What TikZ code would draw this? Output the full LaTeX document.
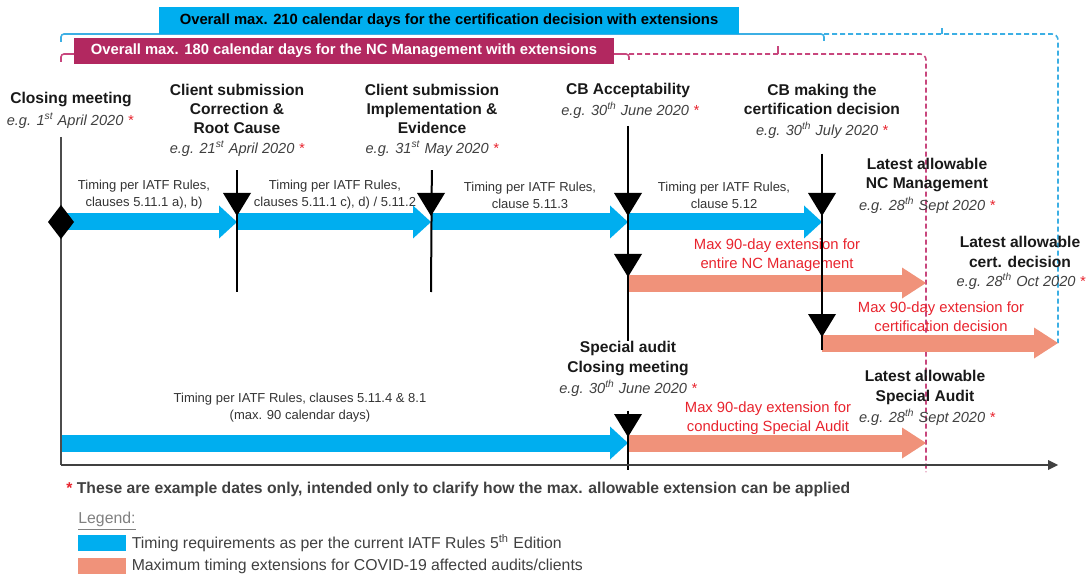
\documentclass[tikz,border=0pt]{standalone}
\usepackage{fontspec}
\setmainfont{Liberation Sans}
\usetikzlibrary{arrows.meta,positioning}

\definecolor{iatfblue}{RGB}{0,174,239}
\definecolor{extorange}{RGB}{240,146,122}
\definecolor{ncmagenta}{RGB}{178,40,96}
\definecolor{extred}{RGB}{232,35,45}
\definecolor{txtgray}{RGB}{64,64,64}
\definecolor{brkblue}{RGB}{60,175,228}
\definecolor{brkmag}{RGB}{200,70,125}

\newcommand{\hdsize}{\fontsize{7.8pt}{9.6pt}\selectfont\bfseries}
\newcommand{\dtsize}{\fontsize{7.3pt}{9pt}\selectfont\itshape}
\newcommand{\tmsize}{\fontsize{6.5pt}{8.5pt}\selectfont}
\newcommand{\exsize}{\fontsize{7.4pt}{9.5pt}\selectfont}
\newcommand{\bnsize}{\fontsize{7.4pt}{9pt}\selectfont\bfseries}
\newcommand{\rs}{\textcolor{extred}{*}}

\tikzset{
  bluebar/.style={draw=iatfblue, line width=8.5pt, -{Triangle[length=9pt,width=16.5pt,line width=0pt]}},
  orangebar/.style={draw=extorange, line width=8.5pt, -{Triangle[length=12pt,width=15.5pt,line width=0pt]}},
  vline/.style={draw=black, line width=1pt},
  hd/.style={font=\hdsize, align=center, inner sep=0pt, text=black!90},
  dt/.style={font=\dtsize, inner sep=0pt, text=txtgray},
  tm/.style={font=\tmsize, align=center, inner sep=0pt, text=black!80},
  ext/.style={font=\exsize, align=center, inner sep=0pt, text=extred},
  banner/.style={font=\bnsize, inner sep=0pt},
  bluebrk/.style={draw=brkblue, line width=0.8pt},
  magbrk/.style={draw=brkmag, line width=0.8pt},
  dashes/.style={dash pattern=on 2.5pt off 1.5pt},
  swatch/.style={minimum width=24pt, minimum height=8pt, inner sep=0pt},
  lgtext/.style={font=\fontsize{7.9pt}{9pt}\selectfont, text=txtgray, inner sep=0pt, anchor=west}
}

\begin{document}
\begin{tikzpicture}[x=0.5pt,y=-0.5pt]
\useasboundingbox (0,0) rectangle (1086,577);

% timeline points
\coordinate (cm) at (61,222);
\coordinate (s1) at (237,222);
\coordinate (s2) at (431,222);
\coordinate (cb) at (628,222);
\coordinate (cd) at (822,222);
\coordinate (cbx) at (628,283);
\coordinate (ncl) at (926,283);
\coordinate (cdx) at (822,343);
\coordinate (cdl) at (1058,343);
\coordinate (sa0) at (61,443);
\coordinate (sa) at (628,443);
\coordinate (sal) at (926,443);
\coordinate (ax0) at (61,465);
\coordinate (ax1) at (1058,465);
\coordinate (ncend) at (926,472);

% brackets over the top
\draw[bluebrk, rounded corners=1.5pt] (61,42) -- (61,34) -- (824,34) -- (824,41);
\draw[bluebrk, dashes, rounded corners=3pt] (824,34) -- (1058,34) -- (cdl);
\draw[bluebrk] (942,34) -- (942,28);
\draw[magbrk, rounded corners=1.5pt] (61,62) -- (61,54) -- (629,54) -- (629,60);
\draw[magbrk, dashes, rounded corners=3pt] (629,54) -- (926,54) -- (ncend);
\draw[magbrk] (778,54) -- (778,46);

\node[banner, fill=iatfblue, minimum width=290pt, minimum height=13.5pt] (ban210) at (449,20.5)
  {Overall max. 210 calendar days for the certification decision with extensions};
\node[banner, fill=ncmagenta, text=white, minimum width=270pt, minimum height=13pt] (ban180) at (344,51)
  {Overall max. 180 calendar days for the NC Management with extensions};

% events
\node[hd] (cmT) at (71,100) {Closing meeting};
\node[dt] (cmD) at (70,121) {e.g. 1\textsuperscript{st} April 2020 \rs};
\node[hd] (s1T) at (237,109) {Client submission\\Correction \&\\Root Cause};
\node[dt] (s1D) at (237,149) {e.g. 21\textsuperscript{st} April 2020 \rs};
\node[hd] (s2T) at (432,109) {Client submission\\Implementation \&\\Evidence};
\node[dt] (s2D) at (432,149) {e.g. 31\textsuperscript{st} May 2020 \rs};
\node[hd] (cbT) at (628,90) {CB Acceptability};
\node[dt] (cbD) at (630,110) {e.g. 30\textsuperscript{th} June 2020 \rs};
\node[hd] (cdT) at (822,99.5) {CB making the\\certification decision};
\node[dt] (cdD) at (822,130) {e.g. 30\textsuperscript{th} July 2020 \rs};
\node[hd] (ncT) at (927,175) {Latest allowable\\NC Management};
\node[dt] (ncD) at (927,205) {e.g. 28\textsuperscript{th} Sept 2020 \rs};
\node[hd] (ctT) at (1020,252) {Latest allowable\\cert. decision};
\node[dt] (ctD) at (1021,281) {e.g. 28\textsuperscript{th} Oct 2020 \rs};
\node[hd] (saT) at (628,358.5) {Special audit\\Closing meeting};
\node[dt] (saD) at (628,388) {e.g. 30\textsuperscript{th} June 2020 \rs};
\node[hd] (slT) at (925,387.5) {Latest allowable\\Special Audit};
\node[dt] (slD) at (927,417) {e.g. 28\textsuperscript{th} Sept 2020 \rs};

% labels on the bars
\node[tm] (t1) at (144,195) {Timing per IATF Rules,\\clauses 5.11.1 a), b)};
\node[tm] (t2) at (335,195) {Timing per IATF Rules,\\clauses 5.11.1 c), d) / 5.11.2};
\node[tm] (t3) at (530,195) {Timing per IATF Rules,\\clause 5.11.3};
\node[tm] (t4) at (724,195) {Timing per IATF Rules,\\clause 5.12};
\node[tm] (t5) at (300,408) {Timing per IATF Rules, clauses 5.11.4 \& 8.1\\(max. 90 calendar days)};
\node[ext] (e1) at (777,255.5) {Max 90-day extension for\\entire NC Management};
\node[ext] (e2) at (941,316.5) {Max 90-day extension for\\certification decision};
\node[ext] (e3) at (768,418.5) {Max 90-day extension for\\conducting Special Audit};

% bars
\draw[bluebar] (cm) -- (s1);
\draw[bluebar] (s1) -- (s2);
\draw[bluebar] (s2) -- (cb);
\draw[bluebar] (cb) -- (cd);
\draw[bluebar] (sa0) -- (sa);
\draw[orangebar] (cbx) -- (ncl);
\draw[orangebar] (cdx) -- (cdl);
\draw[orangebar] (sa) -- (sal);

% time lines
\draw[vline, draw=black!70, shorten <=8pt] (cm |- cmD) -- (ax0);
\draw[vline, shorten <=6.5pt] (s1D) -- (237,292);
\draw[vline, shorten <=6.5pt] (s2D) -- (431,292);
\draw[vline, shorten <=8pt] (cbD.center -| cb) -- (saT.north);
\draw[vline, shorten <=7pt] (saD) -- (628,470);
\draw[vline, shorten <=7.5pt] (cdD) -- (822,350);
\draw[draw=black!75, line width=1pt, -{Triangle[length=5pt,width=5pt,line width=0pt]}] (ax0) -- (ax1);

\fill[black] (cm) ++(0,-17) -- ++(13,17) -- ++(-13,17) -- ++(-13,-17) -- cycle;
\foreach \p in {s1,s2,cb,cd,cbx,cdx,sa}
  \fill[black] (\p) ++(0,-6) -- ++(-14,-23) -- ++(28,0) -- cycle;

% note and legend
\node[anchor=west, inner sep=0pt, font=\fontsize{7.85pt}{9pt}\selectfont\bfseries, text=black!75] (note) at (66,489)
  {\textcolor{extred}{*} These are example dates only, intended only to clarify how the max. allowable extension can be applied};
\node[lgtext, text=black!50] (lgd) at (78,521) {\underline{Legend:}};
\node[swatch, fill=iatfblue] (swb) at (102,543) {};
\node[swatch, fill=extorange] (swo) at (102,566) {};
\node[lgtext, right=2.5pt of swb] (lgb) {Timing requirements as per the current IATF Rules 5\textsuperscript{th} Edition};
\node[lgtext, right=2.5pt of swo] (lgo) {Maximum timing extensions for COVID-19 affected audits/clients};
\end{tikzpicture}
\end{document}
